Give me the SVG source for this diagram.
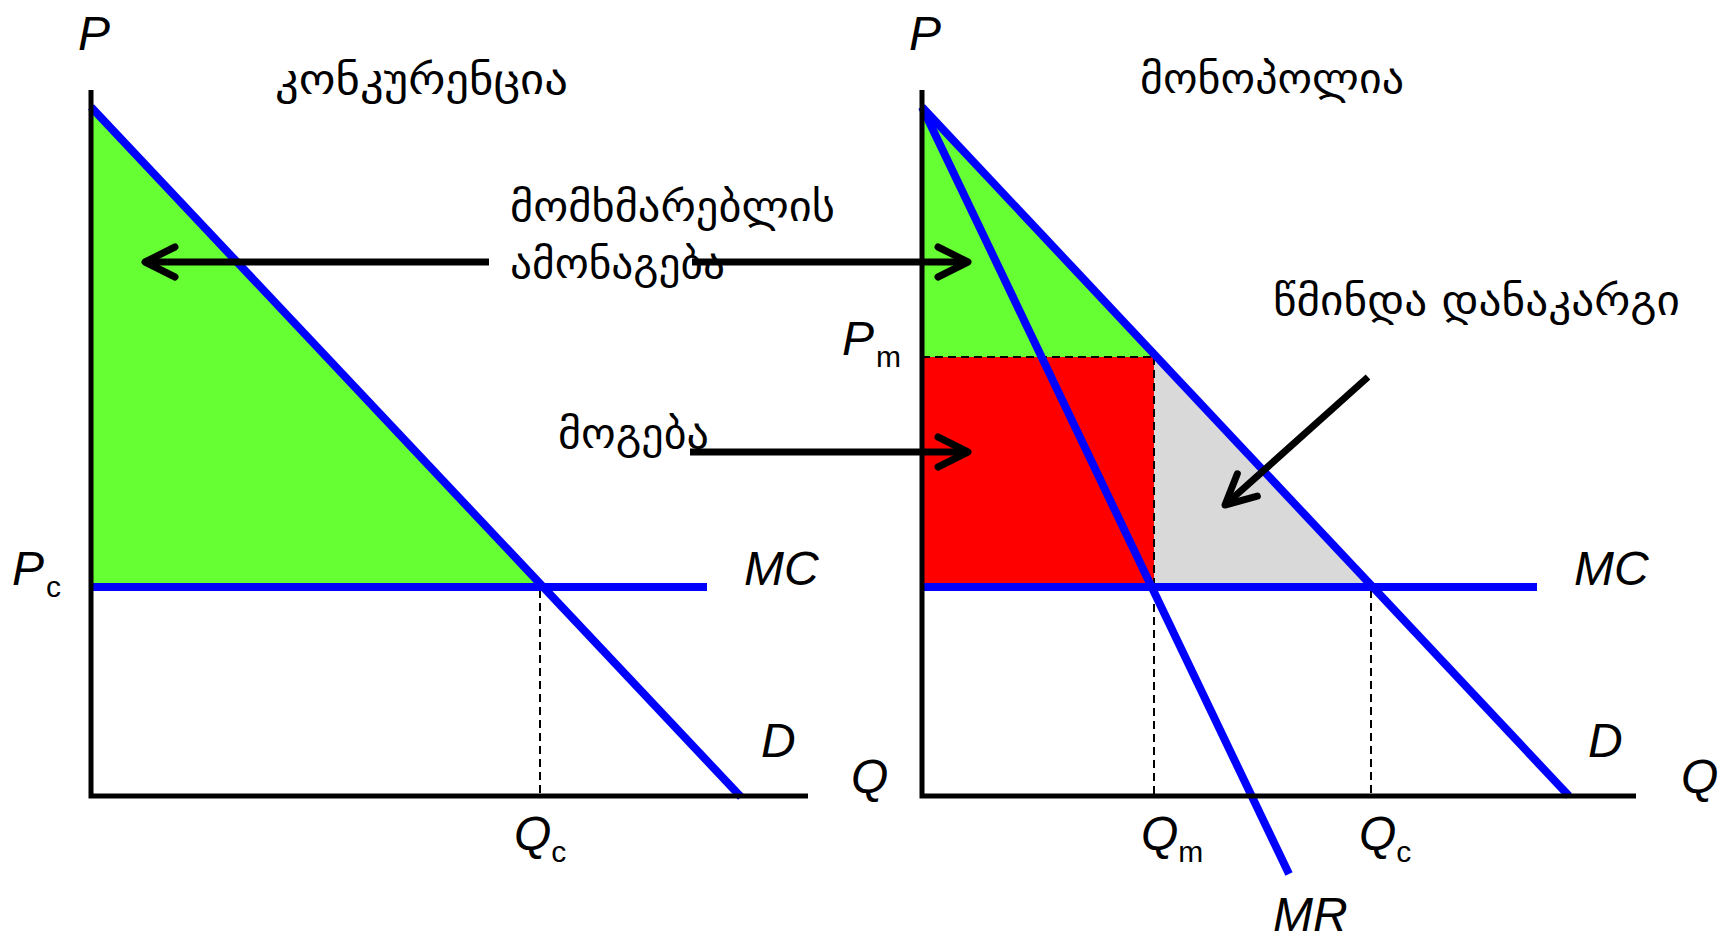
<svg xmlns="http://www.w3.org/2000/svg" width="1723" height="939" viewBox="0 0 1723 939">
<style>
.lbl{font-family:"Liberation Sans",Arial,sans-serif;font-style:italic;font-size:48px;fill:#000}
.sub{font-family:"Liberation Sans",Arial,sans-serif;font-size:30px;fill:#000}
.geo{font-family:"DejaVu Sans","Noto Sans",sans-serif;font-size:42px;fill:#000}
.axis{stroke:#000;stroke-width:5;fill:none}
.curve{stroke:#0000FF;stroke-width:8;fill:none}
.dash{stroke:#000;stroke-width:2;stroke-dasharray:8 5;fill:none}
.arrow{stroke:#000;stroke-width:7;fill:none;marker-end:url(#ah)}
</style>
<defs>
<marker id="ah" markerUnits="userSpaceOnUse" viewBox="-40 -20 50 40" refX="0" refY="0" markerWidth="50" markerHeight="40" orient="auto" overflow="visible">
<path d="M -30 -15 L 0 0 L -30 15" stroke="#000" stroke-width="7" fill="none" stroke-linecap="round" stroke-linejoin="round"/>
</marker>
</defs>
<rect width="1723" height="939" fill="#fff"/>

<g id="competition">
<polygon id="cs-left" points="91,107 542,587 91,587" fill="#66FF33"/>
<line class="dash" x1="540" y1="590" x2="540" y2="796"/>
<line class="curve" x1="91" y1="587" x2="707" y2="587"/>
<line class="curve" x1="91" y1="107" x2="741" y2="797"/>
<polyline class="axis" points="91,90 91,796 808,796"/>
<text class="lbl" x="78" y="50">P</text>
<text class="geo" x="275" y="94" textLength="293" lengthAdjust="spacingAndGlyphs">კონკურენცია</text>
<text class="lbl" x="12" y="585">P<tspan class="sub" dx="2" dy="12" font-style="normal">c</tspan></text>
<text class="lbl" x="744" y="585">MC</text>
<text class="lbl" x="761" y="757">D</text>
<text class="lbl" x="851" y="793">Q</text>
<text class="lbl" x="514" y="850">Q<tspan class="sub" font-style="normal" dy="12">c</tspan></text>
</g>

<g id="monopoly">
<polygon id="cs-right" points="922,107 1157,357 922,357" fill="#66FF33"/>
<rect id="profit" x="922" y="357" width="232" height="230" fill="#FF0000"/>
<polygon id="dwl" points="1154,357 1157,357 1374,587 1154,587" fill="#D9D9D9"/>
<line class="dash" x1="922" y1="357" x2="1157" y2="357"/>
<line class="dash" x1="1154" y1="357" x2="1154" y2="796"/>
<line class="dash" x1="1371" y1="590" x2="1371" y2="796"/>
<line class="curve" x1="922" y1="587" x2="1537" y2="587"/>
<line class="curve" x1="922" y1="107" x2="1569" y2="796"/>
<line class="curve" x1="922" y1="107" x2="1289" y2="874"/>
<polyline class="axis" points="922,90 922,796 1636,796"/>
<text class="lbl" x="909" y="50">P</text>
<text class="geo" x="1140" y="93" textLength="264" lengthAdjust="spacingAndGlyphs">მონოპოლია</text>
<text class="lbl" x="842" y="355">P<tspan class="sub" font-style="normal" dx="2" dy="12">m</tspan></text>
<text class="lbl" x="1574" y="585">MC</text>
<text class="lbl" x="1588" y="757">D</text>
<text class="lbl" x="1681" y="793">Q</text>
<text class="lbl" x="1141" y="850">Q<tspan class="sub" font-style="normal" dy="12">m</tspan></text>
<text class="lbl" x="1359" y="850">Q<tspan class="sub" font-style="normal" dy="12">c</tspan></text>
<text class="lbl" x="1273" y="931">MR</text>
<text class="geo" x="1273" y="315" textLength="407" lengthAdjust="spacingAndGlyphs">წმინდა დანაკარგი</text>
</g>

<g id="annotations">
<text class="geo" x="510" y="221" textLength="325" lengthAdjust="spacingAndGlyphs">მომხმარებლის</text>
<text class="geo" x="510" y="278" textLength="215" lengthAdjust="spacingAndGlyphs">ამონაგება</text>
<text class="geo" x="558" y="448" textLength="151" lengthAdjust="spacingAndGlyphs">მოგება</text>
</g>

<g id="connectors">
<line class="arrow" x1="489" y1="262" x2="145" y2="262"/>
<line class="arrow" x1="692" y1="262" x2="968" y2="262"/>
<line class="arrow" x1="690" y1="452" x2="968" y2="452"/>
<line class="arrow" x1="1368" y1="377" x2="1225" y2="505"/>
</g>
</svg>
